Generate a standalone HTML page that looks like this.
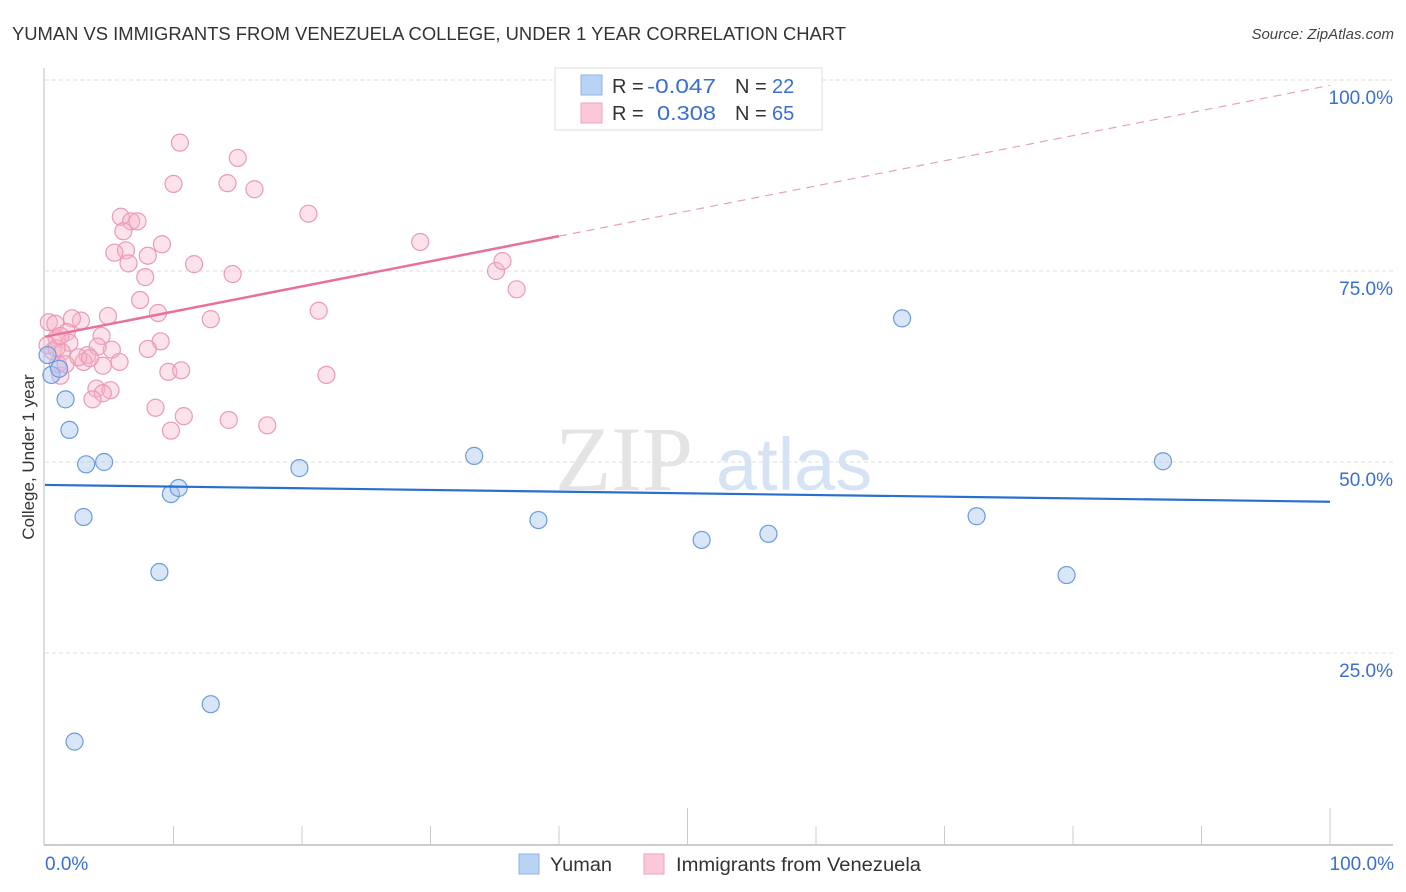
<!DOCTYPE html>
<html><head><meta charset="utf-8">
<style>
body{margin:0;background:#fff;font-family:"Liberation Sans",sans-serif;}
#wrap{position:relative;width:1406px;height:892px;overflow:hidden;}
</style></head>
<body>
<div id="wrap">
<svg id="chart" width="1406" height="892">
  <text x="12" y="40" font-size="18" fill="#333" textLength="834" lengthAdjust="spacingAndGlyphs">YUMAN VS IMMIGRANTS FROM VENEZUELA COLLEGE, UNDER 1 YEAR CORRELATION CHART</text>
  <text x="1394" y="39" font-size="15" fill="#444" font-style="italic" text-anchor="end">Source: ZipAtlas.com</text>
  <g id="grid"></g>
  <text x="555" y="490" font-size="92" fill="#e4e4e4" font-family="Liberation Serif,serif">ZIP</text>
  <text x="716" y="490" font-size="74" fill="#d6e3f4">atlas</text>
  <g id="marks"></g>
  <text transform="translate(34,457) rotate(-90)" font-size="17" fill="#333" text-anchor="middle">College, Under 1 year</text>
  <g>
    <rect x="555" y="68" width="267" height="62" fill="#fff" stroke="#ddd"/>
    <rect x="581" y="75" width="21" height="20" fill="#b9d3f5" stroke="#8fb3e5"/>
    <rect x="581" y="103" width="21" height="20" fill="#fbc8d7" stroke="#eea3bb"/>
    <text x="612" y="93" font-size="20" fill="#333">R = <tspan x="647" fill="#3a6fd0" textLength="69" lengthAdjust="spacingAndGlyphs">-0.047</tspan><tspan x="735">N = </tspan><tspan x="772" fill="#3a6fd0">22</tspan></text>
    <text x="612" y="120" font-size="20" fill="#333">R = <tspan x="657" fill="#3a6fd0" textLength="59" lengthAdjust="spacingAndGlyphs">0.308</tspan><tspan x="735">N = </tspan><tspan x="772" fill="#3a6fd0">65</tspan></text>
  </g>
  <g>
    <rect x="519" y="854" width="20" height="20" fill="#b9d3f5" stroke="#8fb3e5"/>
    <text x="550" y="871" font-size="19" fill="#333" textLength="62" lengthAdjust="spacingAndGlyphs">Yuman</text>
    <rect x="644" y="854" width="20" height="20" fill="#fbc8d7" stroke="#eea3bb"/>
    <text x="676" y="871" font-size="19" fill="#333" textLength="245" lengthAdjust="spacingAndGlyphs">Immigrants from Venezuela</text>
  </g>
</svg>
</div>
<script>
const yTicks=[25,50,75,100];
const yTickLabels=["25.0%","50.0%","75.0%","100.0%"];
const xTicks=[0,10,20,30,40,50,60,70,80,90,100];
const xEndLabels=["0.0%","100.0%"];
const yumanX=[0.5,1.1,1.6,1.9,3.2,4.6,3.0,8.9,9.8,10.4,12.9,2.3,19.8,33.4,38.4,51.1,56.3,66.7,72.5,79.5,87.0,0.2];
const yumanY=[61.4,62.2,58.2,54.2,49.7,50.0,42.8,35.6,45.8,46.6,18.3,13.4,49.2,50.8,42.4,39.8,40.6,68.8,42.9,35.2,50.1,64.0];
const venX=[10.5,15.0,10.0,14.2,16.3,20.5,5.9,6.7,7.2,6.1,29.2,6.3,9.1,5.4,8.0,6.5,11.6,7.8,14.6,35.1,35.6,36.7,7.4,8.8,12.9,21.3,4.9,2.8,0.3,0.8,2.1,4.4,1.7,9.0,8.0,0.9,1.9,3.3,5.2,0.6,1.3,4.1,3.0,4.5,5.8,9.6,10.6,21.9,1.2,4.0,5.1,4.5,3.7,8.6,10.8,14.3,9.8,17.3,2.6,1.0,1.6,0.2,0.9,1.2,3.5];
const venY=[91.8,89.8,86.4,86.5,85.7,82.5,82.1,81.5,81.5,80.2,78.8,77.7,78.5,77.4,77.0,76.0,75.9,74.2,74.6,75.0,76.3,72.6,71.2,69.5,68.7,69.8,69.1,68.5,68.3,68.1,68.8,66.5,67.0,65.8,64.8,66.2,65.6,64.0,64.7,64.5,64.4,65.1,63.1,62.6,63.1,61.8,62.0,61.4,61.3,59.6,59.4,59.0,58.2,57.1,56.0,55.5,54.1,54.8,63.7,62.8,62.8,65.3,64.9,66.5,63.6];
const yumanTrend=[47.0,44.8];
const venTrend=[66.4,99.3];
const venSolidEnd=40;

const X0=45,X1=1330,Y0=844,Y100=80;
const sx=v=>X0+(X1-X0)*v/100;
const sy=v=>Y0-(Y0-Y100)*v/100;
const NS="http://www.w3.org/2000/svg";
function mk(t,a,p){const e=document.createElementNS(NS,t);for(const k in a)e.setAttribute(k,a[k]);p.appendChild(e);return e;}
const grid=document.getElementById('grid'),marks=document.getElementById('marks');
yTicks.forEach((t,i)=>{
  const l=mk('line',{x1:X0,x2:1393,y1:sy(t),y2:sy(t),stroke:'#ddd','stroke-dasharray':'4,3'},grid);
  
  
  const tx=mk('text',{x:1393,y:sy(t)+24,'font-size':19,fill:'#3a6fd0','text-anchor':'end'},grid);
  tx.textContent=yTickLabels[i];
  
  
});
const ax=mk('line',{x1:44,x2:44,y1:68,y2:845,stroke:'#bbb'},grid);


const bx=mk('line',{x1:44,x2:1393,y1:845,y2:845,stroke:'#bbb','stroke-width':1.5},grid);


xTicks.forEach(t=>{
  if(t===0)return;
  const tall=(t===50||t===100);
  const l=mk('line',{x1:sx(t),x2:sx(t),y1:tall?808:826,y2:845,stroke:'#ccc'},grid);
  
  
});
[[0,'start',45],[100,'end',1394]].forEach((a,i)=>{
  const tx=mk('text',{x:a[2],y:870,'font-size':19,fill:'#3a6fd0','text-anchor':a[1]},grid);
  tx.textContent=xEndLabels[i];
  
  
});
venX.forEach((x,i)=>{
  const c=mk('circle',{cx:sx(x),cy:sy(venY[i]),r:8.5,fill:'rgba(248,180,200,0.38)',stroke:'#eb9ab5','stroke-width':1.2},marks);
  
  
});
yumanX.forEach((x,i)=>{
  const c=mk('circle',{cx:sx(x),cy:sy(yumanY[i]),r:8.5,fill:'rgba(170,200,240,0.45)',stroke:'#6a9be0','stroke-width':1.2},marks);
  
  
});
const ty=v=>venTrend[0]+(venTrend[1]-venTrend[0])*v/100;
const p1=mk('line',{x1:sx(0),y1:sy(ty(0)),x2:sx(venSolidEnd),y2:sy(ty(venSolidEnd)),stroke:'#e8719a','stroke-width':2.5},marks);


const p2=mk('line',{x1:sx(venSolidEnd),y1:sy(ty(venSolidEnd)),x2:sx(100),y2:sy(ty(100)),stroke:'#e8a0b8','stroke-width':1.2,'stroke-dasharray':'8,6'},marks);


const b1=mk('line',{x1:sx(0),y1:sy(yumanTrend[0]),x2:sx(100),y2:sy(yumanTrend[1]),stroke:'#2a6fd0','stroke-width':2.2},marks);


</script>
</body></html>
